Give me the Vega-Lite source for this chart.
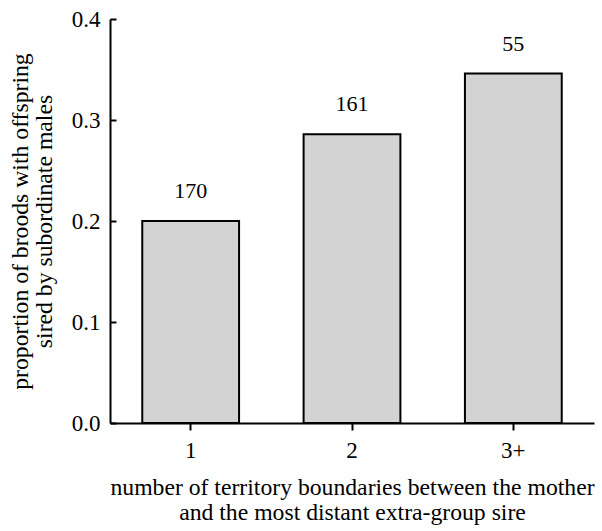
{
  "$schema": "https://vega.github.io/schema/vega-lite/v6.json",
  "width": 484,
  "height": 404,
  "autosize": "none",
  "padding": {"left": 110, "top": 19, "right": 8, "bottom": 108},
  "background": "white",
  "data": {
    "values": [
      {"boundaries": "1", "proportion": 0.2, "n": 170},
      {"boundaries": "2", "proportion": 0.286, "n": 161},
      {"boundaries": "3+", "proportion": 0.346, "n": 55}
    ]
  },
  "config": {
    "view": {"stroke": null},
    "font": "Liberation Serif, Times New Roman, serif",
    "axis": {
      "domainColor": "black",
      "domainWidth": 2,
      "tickColor": "black",
      "tickWidth": 2,
      "grid": false,
      "labelFont": "Liberation Serif, Times New Roman, serif",
      "labelFontSize": 23,
      "labelColor": "black",
      "titleFont": "Liberation Serif, Times New Roman, serif",
      "titleFontSize": 23.7,
      "titleFontWeight": "normal",
      "titleColor": "black"
    }
  },
  "encoding": {
    "x": {
      "field": "boundaries",
      "type": "ordinal",
      "sort": null,
      "scale": {"paddingInner": 0.4, "paddingOuter": 0.2},
      "axis": {
        "title": ["number of territory boundaries between the mother", "and the most distant extra-group sire"],
        "titleLineHeight": 25,
        "titlePadding": 13,
        "labelAngle": 0,
        "tickSize": 7,
        "labelPadding": 9
      }
    },
    "y": {
      "field": "proportion",
      "type": "quantitative",
      "scale": {"domain": [0, 0.4], "nice": false},
      "axis": {
        "title": ["proportion of broods with offspring", "sired by subordinate males"],
        "titleLineHeight": 24,
        "titlePadding": 15,
        "values": [0, 0.1, 0.2, 0.3, 0.4],
        "format": ".1f",
        "tickSize": -6,
        "labelPadding": 16
      }
    }
  },
  "layer": [
    {
      "mark": {"type": "bar", "fill": "#d3d3d3", "stroke": "black", "strokeWidth": 2}
    },
    {
      "mark": {"type": "text", "fontSize": 22, "baseline": "alphabetic", "dy": -23, "color": "black"},
      "encoding": {"text": {"field": "n", "type": "quantitative"}}
    }
  ]
}
